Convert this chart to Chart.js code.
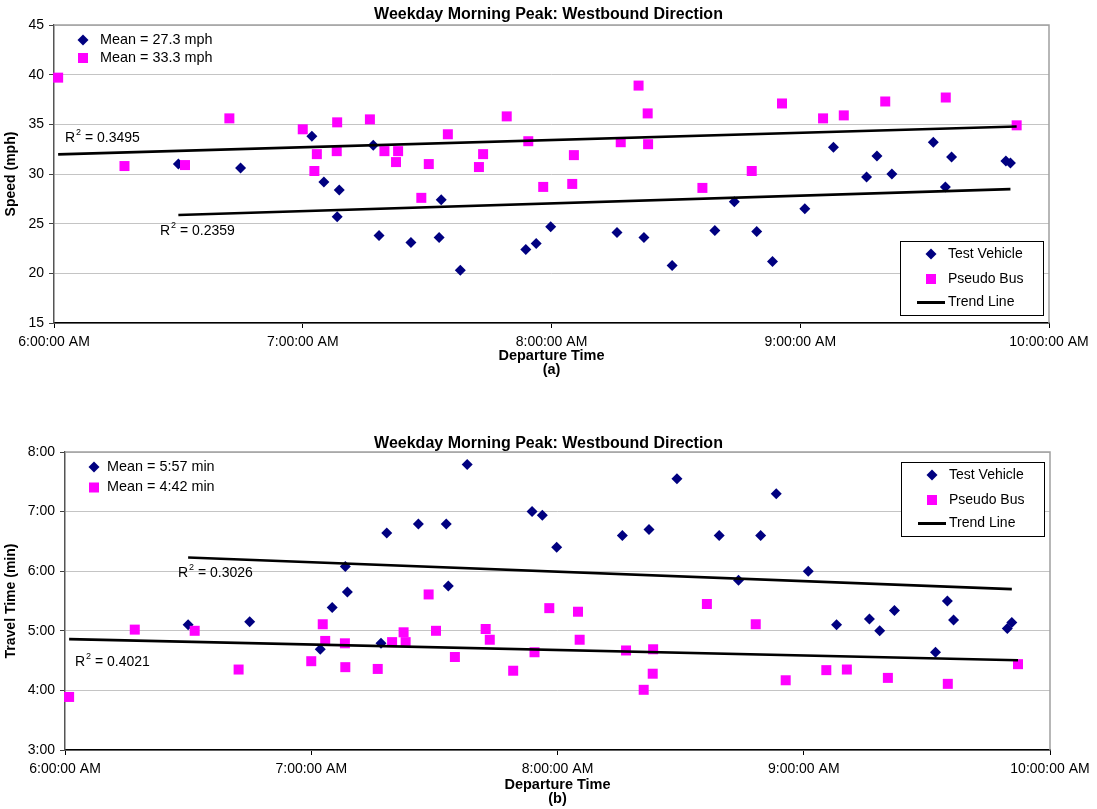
<!DOCTYPE html>
<html>
<head>
<meta charset="utf-8">
<script src="https://cdn.jsdelivr.net/npm/chart.js@4.4.0/dist/chart.umd.min.js"></script>
<style>
  body { margin: 0; background: #fff; }
  #wrapA { position: absolute; left: 0; top: 0; width: 1097px; height: 380px; }
  #wrapB { position: absolute; left: 0; top: 400px; width: 1097px; height: 409px; }
</style>
</head>
<body>
<div id="wrapA"><canvas id="speedChart" width="1097" height="380"></canvas></div>
<div id="wrapB"><canvas id="timeChart" width="1097" height="409"></canvas></div>
<script>
// departure time in minutes after 6:00 AM (same runs in both charts)
const tvDepart = [30, 45, 62.2, 65.1, 68.3, 68.8, 77, 78.4, 86.1, 92.9, 93.4, 98, 113.8, 116.3, 119.8, 135.8,
                  142.3, 149.1, 159.4, 164.1, 169.5, 173.3, 181.1, 188, 196, 198.5, 202.1, 212.1, 215, 216.5, 229.6, 230.7];
const tvSpeed = [31.0, 30.6, 33.8, 29.2, 25.7, 28.4, 32.9, 23.8, 23.1, 23.6, 27.4, 20.3, 22.4, 23.0, 24.7, 24.1,
                 23.6, 20.8, 24.3, 27.2, 24.2, 21.2, 26.5, 32.7, 29.7, 31.8, 30.0, 33.2, 28.7, 31.7, 31.3, 31.1];
// travel time in minutes
const tvTime = [5.10, 5.15, 4.69, 5.39, 6.08, 5.65, 4.79, 6.64, 6.79, 6.79, 5.75, 7.79, 7.00, 6.94, 6.40, 6.60,
                6.70, 7.55, 6.60, 5.85, 6.60, 7.30, 6.00, 5.10, 5.20, 5.00, 5.34, 4.64, 5.50, 5.18, 5.04, 5.14];

const pbDepart = [1, 17, 31.6, 42.3, 60, 62.8, 63.4, 68.2, 68.3, 76.2, 79.7, 82.5, 83, 88.6, 90.4, 95, 102.5, 103.5,
                  109.2, 114.4, 118, 125, 125.4, 136.7, 141, 143.2, 143.3, 156.4, 168.3, 175.6, 185.5, 190.5, 200.5, 215.1, 232.2];
const pbSpeed = [39.7, 30.8, 30.9, 35.6, 34.5, 30.3, 32.0, 32.3, 35.2, 35.5, 32.3, 31.2, 32.3, 27.6, 31.0, 34.0, 30.7, 32.0,
                 35.8, 33.3, 28.7, 29.0, 31.9, 33.2, 38.9, 36.1, 33.0, 28.6, 30.3, 37.1, 35.6, 35.9, 37.3, 37.7, 34.9];
const pbTime = [3.89, 5.02, 5.00, 4.35, 4.49, 5.11, 4.83, 4.79, 4.39, 4.36, 4.81, 4.975, 4.81, 5.61, 5.00, 4.56, 5.03, 4.85,
                4.33, 4.64, 5.38, 5.32, 4.85, 4.67, 4.01, 4.28, 4.69, 5.45, 5.11, 4.17, 4.34, 4.35, 4.21, 4.11, 4.44];

// trend line end points [start, end]
const tvTrendX = [30, 230.7];
const tvTrendSpeed = [25.87, 28.48];
const tvTrendTime = [6.23, 5.70];
const pbTrendX = [1, 232.2];
const pbTrendSpeed = [31.98, 34.78];
const pbTrendTime = [4.86, 4.505];

const xTickLabels = ['6:00:00 AM', '7:00:00 AM', '8:00:00 AM', '9:00:00 AM', '10:00:00 AM'];
const timeTickLabels = ['3:00', '4:00', '5:00', '6:00', '7:00', '8:00'];
const legendLabels = ['Test Vehicle', 'Pseudo Bus', 'Trend Line'];
const meanSpeedLabels = ['Mean = 27.3 mph', 'Mean = 33.3 mph'];
const meanTimeLabels = ['Mean = 5:57 min', 'Mean = 4:42 min'];
const r2Speed = ['0.3495', '0.2359'];
const r2Time = ['0.3026', '0.4021'];

const FONT = '"Liberation Sans", Arial, sans-serif';
const NAVY = '#000080';
const PINK = '#ff00ff';
Chart.defaults.font.family = FONT;
Chart.defaults.color = '#000';

function pts(xs, ys) { return xs.map((x, i) => ({x: x, y: ys[i]})); }

function marker(ctx, kind, x, y) {
  ctx.beginPath();
  if (kind === 'diamond') {
    ctx.fillStyle = NAVY;
    ctx.moveTo(x, y - 5.5); ctx.lineTo(x + 5.5, y); ctx.lineTo(x, y + 5.5); ctx.lineTo(x - 5.5, y);
    ctx.closePath(); ctx.fill();
  } else {
    ctx.fillStyle = PINK;
    ctx.fillRect(x - 5, y - 5, 10, 10);
  }
}

function drawR2(ctx, x, y, val) {
  ctx.fillStyle = '#000';
  ctx.textBaseline = 'middle';
  ctx.textAlign = 'left';
  ctx.font = '14px ' + FONT;
  ctx.fillText('R', x, y);
  const w = ctx.measureText('R').width;
  ctx.font = '9px ' + FONT;
  ctx.fillText('2', x + w + 1, y - 5);
  const w2 = ctx.measureText('2').width;
  ctx.font = '14px ' + FONT;
  ctx.fillText(' = ' + val, x + w + w2 + 1, y);
}

const overlay = {
  id: 'overlay',
  beforeDatasetsDraw(chart) {
    const ctx = chart.ctx, a = chart.chartArea;
    ctx.save();
    ctx.strokeStyle = '#a0a0a0';
    ctx.lineWidth = 1.5;
    ctx.beginPath();
    ctx.moveTo(a.left, a.top); ctx.lineTo(a.right, a.top); ctx.lineTo(a.right, a.bottom);
    ctx.stroke();
    ctx.restore();
  },
  afterDatasetsDraw(chart, args, o) {
    const ctx = chart.ctx, a = chart.chartArea;
    ctx.save();
    // mean labels, top left
    ['diamond', 'square'].forEach((k, i) => {
      const y = a.top + o.mean.y + i * o.mean.gap;
      marker(ctx, k, a.left + o.mean.x, y);
      ctx.fillStyle = '#000';
      ctx.font = '14.4px ' + FONT;
      ctx.textBaseline = 'middle';
      ctx.fillText(o.meanText[i], a.left + o.mean.tx, y);
    });
    // R squared labels
    o.r2.forEach((p, i) => drawR2(ctx, a.left + p.x, a.top + p.y, o.r2Text[i]));
    // legend box
    const bx = a.left + o.box.x, by = a.top + o.box.y;
    ctx.fillStyle = '#fff';
    ctx.fillRect(bx, by, 143, 74);
    ctx.strokeStyle = '#000';
    ctx.lineWidth = 1;
    ctx.strokeRect(bx + 0.5, by + 0.5, 143, 74);
    const rows = [13, 38, 61.5];
    marker(ctx, 'diamond', bx + 31, by + rows[0]);
    marker(ctx, 'square', bx + 31, by + rows[1]);
    ctx.strokeStyle = '#000';
    ctx.lineWidth = 3;
    ctx.beginPath(); ctx.moveTo(bx + 17, by + rows[2]); ctx.lineTo(bx + 45, by + rows[2]); ctx.stroke();
    ctx.fillStyle = '#000';
    ctx.font = '14px ' + FONT;
    ctx.textBaseline = 'middle';
    legendLabels.forEach((t, i) => ctx.fillText(t, bx + 48, by + rows[i]));
    ctx.restore();
  }
};

function makeChart(id, cfg) {
  return new Chart(document.getElementById(id), {
    type: 'scatter',
    data: {
      datasets: [
        { label: 'Trend TV', data: pts(tvTrendX, cfg.tvTrend), showLine: true, borderColor: '#000', borderWidth: 2.6, pointRadius: 0, clip: false },
        { label: 'Trend PB', data: pts(pbTrendX, cfg.pbTrend), showLine: true, borderColor: '#000', borderWidth: 2.6, pointRadius: 0, clip: false },
        { label: legendLabels[1], data: pts(pbDepart, cfg.pb), pointStyle: 'rect', pointRadius: 7.07,
          backgroundColor: PINK, borderColor: PINK, borderWidth: 0, clip: false },
        { label: legendLabels[0], data: pts(tvDepart, cfg.tv), pointStyle: 'rectRot', pointRadius: 5.5,
          backgroundColor: NAVY, borderColor: NAVY, borderWidth: 0, clip: false }
      ]
    },
    options: {
      responsive: false,
      animation: false,
      devicePixelRatio: 1,
      layout: { padding: 0 },
      plugins: {
        legend: { display: false },
        tooltip: { enabled: false },
        title: { display: true, text: 'Weekday Morning Peak: Westbound Direction',
                 font: { size: 16, weight: 'bold', lineHeight: 1 }, color: '#000', padding: cfg.titlePad },
        overlay: cfg.overlay
      },
      scales: {
        x: {
          type: 'linear', min: 0, max: 240,
          afterFit: s => { s.height = cfg.xHeight; },
          ticks: { stepSize: 60, padding: 6, font: { size: 14 }, color: '#000', maxRotation: 0,
                   callback: (v, i) => xTickLabels[i] },
          grid: { drawOnChartArea: false, drawTicks: true, tickLength: 5, tickColor: '#000' },
          border: { color: '#000', width: 1.5 },
          title: { display: true, text: ['Departure Time', cfg.letter], font: { size: 14.5, weight: 'bold', lineHeight: 1.0 },
                   color: '#000', padding: { top: 0, bottom: 2.5 } }
        },
        y: {
          min: cfg.yMin, max: cfg.yMax,
          afterFit: s => { s.width = cfg.yWidth; },
          ticks: { stepSize: cfg.yStep, padding: 5, font: { size: 14 }, color: '#000', callback: cfg.yTick },
          grid: { color: '#c4c4c4', lineWidth: 1, tickLength: 5, tickColor: '#404040' },
          border: { color: '#555', width: 1.5 },
          title: { display: true, text: cfg.yTitle, font: { size: 14, weight: 'bold' }, color: '#000',
                   padding: { top: 3, bottom: 0 } }
        },
        // empty right-hand spacer so the title centres on the whole figure
        spacer: {
          position: 'right', display: true,
          afterFit: s => { s.width = cfg.padRight; },
          ticks: { display: false }, grid: { display: false }, border: { display: false }
        }
      }
    },
    plugins: [overlay]
  });
}

makeChart('speedChart', {
  tv: tvSpeed, pb: pbSpeed, tvTrend: tvTrendSpeed, pbTrend: pbTrendSpeed,
  yMin: 15, yMax: 45, yStep: 5, yTick: v => v, yTitle: 'Speed (mph)', letter: '(a)',
  yWidth: 54, xHeight: 57, padRight: 48, titlePad: { top: 6.5, bottom: 2.5 },
  overlay: {
    mean: { x: 29, y: 15, gap: 18, tx: 46 }, meanText: meanSpeedLabels,
    r2: [{ x: 11, y: 113 }, { x: 106, y: 206 }], r2Text: r2Speed,
    box: { x: 846, y: 216 }
  }
});

makeChart('timeChart', {
  tv: tvTime, pb: pbTime, tvTrend: tvTrendTime, pbTrend: pbTrendTime,
  yMin: 3, yMax: 8, yStep: 1, yTick: (v, i) => timeTickLabels[i], yTitle: 'Travel Time (min)', letter: '(b)',
  yWidth: 65, xHeight: 59, padRight: 47, titlePad: { top: 36, bottom: 0 },
  overlay: {
    mean: { x: 29, y: 15, gap: 20.5, tx: 42 }, meanText: meanTimeLabels,
    r2: [{ x: 113, y: 121 }, { x: 10, y: 210 }], r2Text: r2Time,
    box: { x: 836, y: 10 }
  }
});
</script>
</body>
</html>
